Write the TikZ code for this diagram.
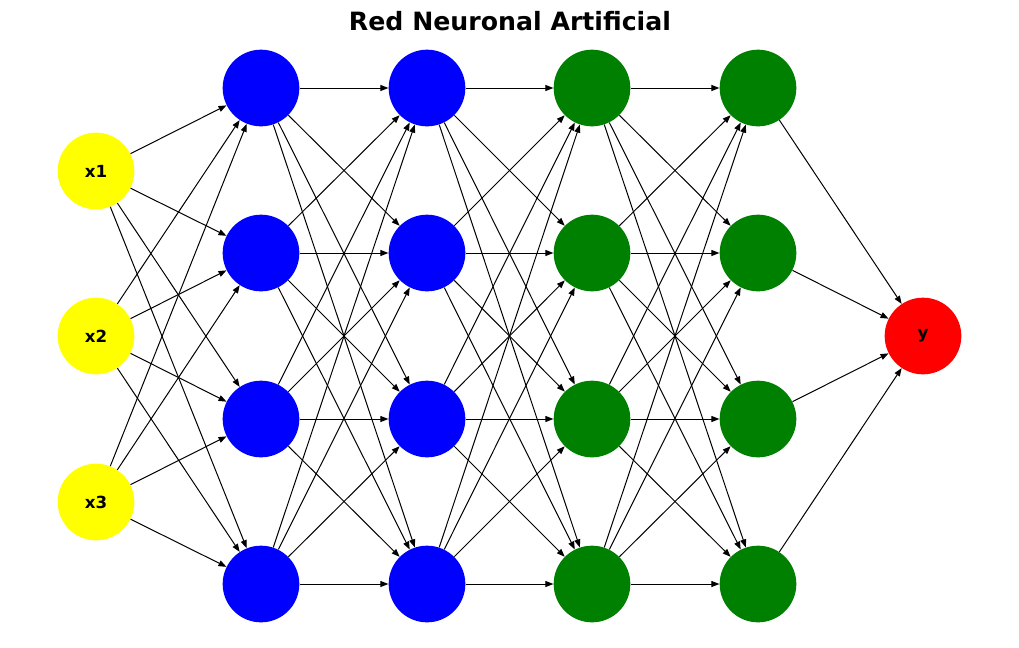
\documentclass[tikz,border=0pt]{standalone}
\usepackage{fontspec}
\setmainfont{DejaVu Sans}
\usetikzlibrary{arrows.meta}
\begin{document}
\begin{tikzpicture}[x=0.75pt,y=-0.75pt,
  neuron/.style={circle,inner sep=0pt,minimum size=57.5pt,font=\bfseries\fontsize{12.5}{14}\selectfont},
  inp/.style={neuron,fill={rgb,255:red,255;green,255;blue,0}},
  hidb/.style={neuron,fill={rgb,255:red,0;green,0;blue,255}},
  hidg/.style={neuron,fill={rgb,255:red,0;green,128;blue,0}},
  outp/.style={neuron,fill={rgb,255:red,255;green,0;blue,0}},
  edge/.style={line width=0.75pt,-{Triangle[length=6pt,width=4.5pt]}}]
\useasboundingbox (0,0) rectangle (1019,647);
\node[font=\bfseries\fontsize{18.9}{22}\selectfont] (title) at (510,21) {Red Neuronal Artificial};
% inputs
\node[inp] (i1) at (96,171) {x1};
\node[inp] (i2) at (96,336) {x2};
\node[inp] (i3) at (96,502) {x3};
% hidden layers
\foreach \k/\yy in {1/88,2/253,3/419,4/584}{
  \node[hidb] (a\k) at (261,\yy) {};
  \node[hidb] (b\k) at (427,\yy) {};
  \node[hidg] (c\k) at (592,\yy) {};
  \node[hidg] (d\k) at (758,\yy) {};
}
\node[outp] (o) at (923,336) {y};
% edges
\foreach \i in {1,2,3}{\foreach \k in {1,2,3,4}{\draw[edge] (i\i) -- (a\k);}}
\foreach \j in {1,2,3,4}{\foreach \k in {1,2,3,4}{
  \draw[edge] (a\j) -- (b\k);
  \draw[edge] (b\j) -- (c\k);
  \draw[edge] (c\j) -- (d\k);
}}
\foreach \j in {1,2,3,4}{\draw[edge] (d\j) -- (o);}
\end{tikzpicture}
\end{document}
